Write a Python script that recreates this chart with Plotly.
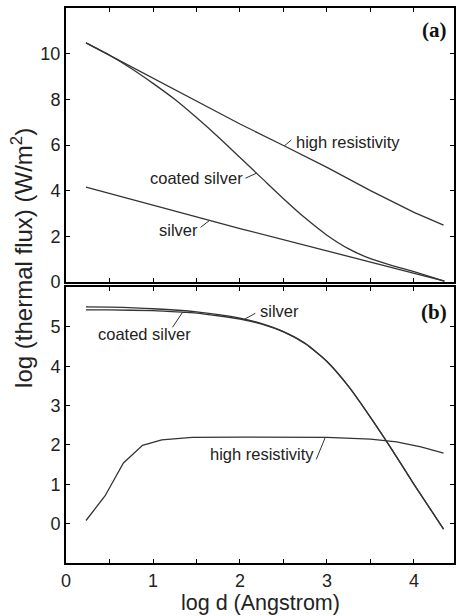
import numpy as np
import plotly.graph_objects as go

# ---------------- data ----------------
# panel (a)
a_hr_x = [0.23, 1.0, 1.5, 2.0, 2.5, 3.0, 3.5, 4.0, 4.34]
a_hr_y = [10.47, 8.92, 7.9, 6.92, 5.98, 5.02, 4.0, 3.05, 2.49]

a_cs_x = [0.23, 0.5, 0.75, 1.0, 1.25, 1.5, 1.75, 2.0, 2.25, 2.5, 2.75, 3.0, 3.25, 3.5, 3.75, 4.0, 4.35]
a_cs_y = [10.47, 9.93, 9.35, 8.7, 8.0, 7.2, 6.35, 5.45, 4.55, 3.65, 2.8, 2.05, 1.45, 1.02, 0.72, 0.45, 0.04]

a_ag_x = [0.23, 1.0, 1.5, 2.0, 2.5, 3.0, 3.5, 4.0, 4.35]
a_ag_y = [4.16, 3.35, 2.85, 2.34, 1.85, 1.37, 0.87, 0.38, 0.04]

# panel (b)
b_ag_x = [0.23, 0.5, 1.0, 1.5, 2.0, 2.25, 2.5, 2.75, 3.0, 3.25, 3.5, 3.75, 4.0, 4.34]
b_ag_y = [5.51, 5.50, 5.46, 5.38, 5.22, 5.08, 4.88, 4.58, 4.12, 3.48, 2.7, 1.87, 1.0, -0.14]

b_cs_x = [0.23, 0.5, 1.0, 1.35, 1.5, 2.0, 2.25, 2.5, 2.75, 3.0, 3.25, 3.5, 3.75, 4.0, 4.34]
b_cs_y = [5.43, 5.43, 5.41, 5.37, 5.35, 5.20, 5.07, 4.87, 4.57, 4.12, 3.48, 2.7, 1.87, 1.0, -0.14]

b_hr_x = [0.23, 0.45, 0.66, 0.88, 1.1, 1.45, 2.0, 2.5, 3.0, 3.5, 3.8, 4.08, 4.34]
b_hr_y = [0.08, 0.71, 1.54, 1.99, 2.13, 2.19, 2.2, 2.2, 2.19, 2.15, 2.08, 1.95, 1.79]

x_tickvals = [0, 1, 2, 3, 4]
a_ytickvals = [0, 2, 4, 6, 8, 10]
b_ytickvals = [0, 1, 2, 3, 4, 5]

LINE = "#333333"
TXT = "#222222"
SANS = "Liberation Sans, Arial, sans-serif"

fig = go.Figure()
series = [
    (a_hr_x, a_hr_y, "x", "y", "linear"), (a_cs_x, a_cs_y, "x", "y", "spline"),
    (a_ag_x, a_ag_y, "x", "y", "linear"),
    (b_ag_x, b_ag_y, "x2", "y2", "spline"), (b_cs_x, b_cs_y, "x2", "y2", "spline"),
    (b_hr_x, b_hr_y, "x2", "y2", "linear"),
]
for xs, ys, xa, ya, shp in series:
    ln = dict(color=LINE, width=1.3, shape=shp)
    if shp == "spline":
        ln["smoothing"] = 0.6
    fig.add_trace(go.Scatter(x=xs, y=ys, mode="lines", xaxis=xa, yaxis=ya, line=ln,
                             showlegend=False, hoverinfo="skip"))

# labels with leader lines
labels = [
    ("high resistivity", a_hr_x, a_hr_y, 2.51, "x", "y", 7, 6, 10, 4, "left"),
    ("coated silver", a_cs_x, a_cs_y, 2.19, "x", "y", -11, -5, -12, -5, "right"),
    ("silver", a_ag_x, a_ag_y, 1.65, "x", "y", -9, -7, -10, -10, "right"),
    ("silver", b_ag_x, b_ag_y, 2.05, "x2", "y2", 11, 6, 14, 8, "left"),
    ("coated silver", b_cs_x, b_cs_y, 1.34, "x2", "y2", -10, -15, 10, -22, "right"),
    ("high resistivity", b_hr_x, b_hr_y, 2.98, "x2", "y2", -9, -22, -9, -17, "right"),
]
for text, sx, sy, tx, xa, ya, ldx, ldy, tsx, tsy, anc in labels:
    ty = float(np.interp(tx, sx, sy))
    fig.add_shape(type="line", xref=xa, yref=ya, xsizemode="pixel", ysizemode="pixel",
                  xanchor=tx, yanchor=ty, x0=0, y0=0, x1=ldx, y1=ldy,
                  line=dict(color=LINE, width=1))
    fig.add_annotation(x=tx, y=ty, xref=xa, yref=ya, text=text, showarrow=False,
                       xanchor=anc, yanchor="middle", xshift=tsx, yshift=tsy,
                       font=dict(family=SANS, size=16.5, color=TXT))

for t, yy in [("(a)", 0.960), ("(b)", 0.452)]:
    fig.add_annotation(x=0.9487, y=yy, xref="paper", yref="paper", text="<b>%s</b>" % t,
                       showarrow=False, xanchor="center", yanchor="middle",
                       font=dict(family="Liberation Serif, Times New Roman, serif", size=21, color="#111"))

fig.add_annotation(x=0.5, y=-0.072, xref="paper", yref="paper", text="log d (Angstrom)",
                   showarrow=False, xanchor="center", yanchor="middle",
                   font=dict(family=SANS, size=21.5, color=TXT))
fig.add_annotation(x=-0.113, y=0.55, xref="paper", yref="paper",
                   text="log (thermal flux) (W/m<sup>2</sup>)", textangle=-90,
                   showarrow=False, xanchor="center", yanchor="middle",
                   font=dict(family=SANS, size=24, color=TXT))

axis_common = dict(showline=True, linewidth=2, linecolor="black", mirror="ticks",
                   ticks="inside", ticklen=4, tickwidth=1.3, tickcolor="black",
                   showgrid=False, zeroline=False,
                   tickfont=dict(family=SANS, size=18, color=TXT))
minor_x = dict(dtick=0.5, ticks="inside", ticklen=4, tickwidth=1.3, tickcolor="black", showgrid=False)

fig.update_layout(
    width=458, height=616,
    margin=dict(l=66, r=2, t=8, b=53),
    paper_bgcolor="white", plot_bgcolor="white",
    xaxis=dict(axis_common, domain=[0, 1], range=[0, 4.46], anchor="y",
               tickvals=x_tickvals, showticklabels=False, minor=minor_x),
    yaxis=dict(axis_common, domain=[0.5063, 1], range=[0, 12], anchor="x",
               tickvals=a_ytickvals),
    xaxis2=dict(axis_common, domain=[0, 1], range=[0, 4.46], anchor="y2",
                tickvals=x_tickvals, minor=minor_x),
    yaxis2=dict(axis_common, domain=[0, 0.4964], range=[-1, 6], anchor="x2",
                tickvals=b_ytickvals),
)

fig.write_html("out.html", config={"displayModeBar": False},
               post_script="document.body.style.margin='0';document.body.style.overflow='hidden';")
